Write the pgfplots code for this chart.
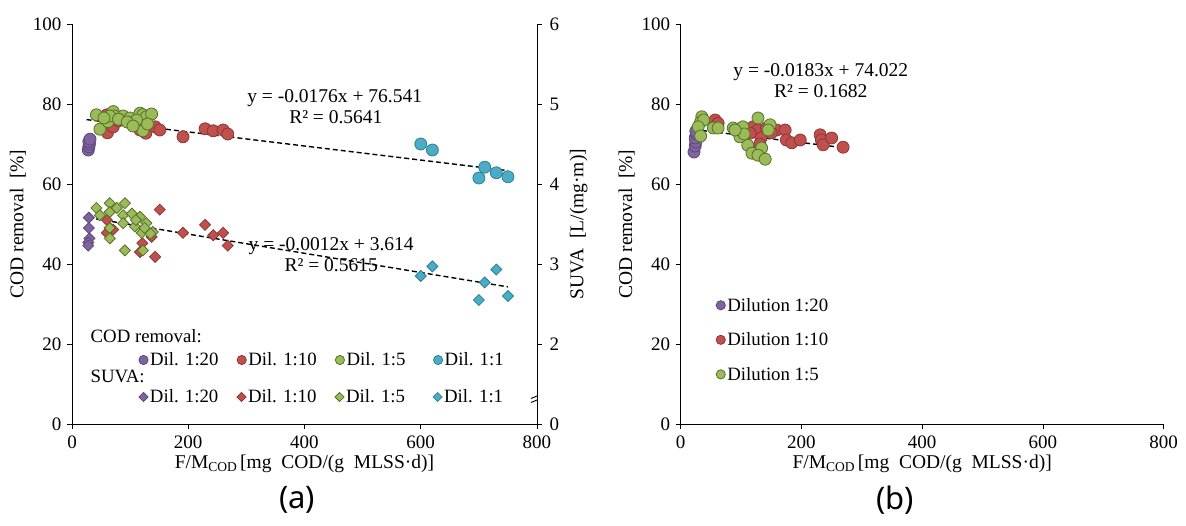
\documentclass[border=0pt]{standalone}
\usepackage{pgfplots}
\pgfplotsset{compat=1.18}
\usepackage{fontspec}
\setmainfont{Liberation Serif}
\newfontfamily\capfont{Noto Sans}
\definecolor{pF}{HTML}{8064A2}\definecolor{pD}{HTML}{5C4776}
\definecolor{rF}{HTML}{C0504D}\definecolor{rD}{HTML}{8C3836}
\definecolor{gF}{HTML}{9BBB59}\definecolor{gD}{HTML}{56702A}
\definecolor{bF}{HTML}{4BACC6}\definecolor{bD}{HTML}{2E7F95}
\newcommand{\fs}{\fontsize{19}{22}\selectfont}
\newcommand{\fl}{\fontsize{19.5}{22}\selectfont}
\newcommand{\fg}{\fontsize{18.8}{22}\selectfont}
\pgfplotsset{
  base/.style={scale only axis, width=465pt, height=400pt,
    xmin=0, xmax=800, ymin=0, ymax=100,
    tick align=outside, major tick length=5pt,
    tick style={black, line width=0.8pt},
    axis line style={line width=0.9pt},
    /pgf/number format/assume math mode=true,
    ticklabel style={font=\fs},
    xticklabel style={yshift=-3pt},
    label style={font=\fl},
    xtick={0,200,400,600,800},
    ytick={0,20,40,60,80,100},
  },
  cpur/.style={only marks, mark=*, mark size=6pt, fill=pF, draw=pD, line width=0.8pt},
  cred/.style={only marks, mark=*, mark size=6pt, fill=rF, draw=rD, line width=0.8pt},
  cgrn/.style={only marks, mark=*, mark size=6pt, fill=gF, draw=gD, line width=0.8pt},
  cblu/.style={only marks, mark=*, mark size=6pt, fill=bF, draw=bD, line width=0.8pt},
  dpur/.style={only marks, mark=square*, mark options={rotate=45}, mark size=3.9pt, fill=pF, draw=pD, line width=0.8pt},
  dred/.style={only marks, mark=square*, mark options={rotate=45}, mark size=3.9pt, fill=rF, draw=rD, line width=0.8pt},
  dgrn/.style={only marks, mark=square*, mark options={rotate=45}, mark size=3.9pt, fill=gF, draw=gD, line width=0.8pt},
  dblu/.style={only marks, mark=square*, mark options={rotate=45}, mark size=3.9pt, fill=bF, draw=bD, line width=0.8pt},
  trend/.style={black, line width=1.4pt, dash pattern=on 5pt off 3pt, mark=none},
}
\begin{document}
\frenchspacing
\begin{tikzpicture}
\path[use as bounding box] (0,0) rectangle (1186pt,-525pt);
% ---------- (a) primary axis ----------
\begin{axis}[base, at={(72pt,-424pt)}, anchor=south west,
  axis x line*=bottom, axis y line*=left,
  yticklabel style={xshift=-2pt},
  xlabel={F/M{\fontsize{13.5}{14}\selectfont\raisebox{-2.5pt}{COD}}\,[mg\ \ COD/(g\ \ MLSS·d)]},
  ylabel={COD removal\ \ [\%]},
  legend style={at={(0.1435,0.16)}, anchor=west, draw=none, fill=none,
    legend columns=4, font=\fg, inner sep=0pt,
    nodes={text width=85pt, align=left, inner xsep=2pt, inner ysep=1pt}},
  legend cell align=left,
  legend image code/.code={\draw[#1, mark size=4.6pt] plot coordinates {(0pt,0pt)};},
]
\addplot[cpur] coordinates {(28,68.5) (29,69.3) (30,70.0) (29,70.6) (31,71.2)};
\addlegendentry{Dil.\ 1:20}
\addplot[cred] coordinates {(60,77.3) (61,72.8) (71,74.3) (80,75.8) (85,76.5) (117,73.5) (127,72.7) (143,74.3) (151,73.5) (191,71.8) (229,73.8) (243,73.3) (260,73.5) (268,72.5) (110,75.0) (65,76.0)};
\addlegendentry{Dil.\ 1:10}
\addplot[cgrn] coordinates {(42,77.3) (48,73.7) (62,75.6) (71,78.1) (73,77.0) (88,77.0) (100,76.5) (117,77.7) (122,77.3) (128,76.8) (137,77.5) (122,73.3) (111,76.0) (65,77.0) (55,76.5) (80,76.2) (95,75.5) (130,75.0) (105,74.5)};
\addlegendentry{Dil.\ 1:5}
\addplot[cblu] coordinates {(600,70.0) (620,68.5) (700,61.5) (710,64.2) (730,62.8) (750,61.8)};
\addlegendentry{Dil.\ 1:1}
\addplot[trend, forget plot] coordinates {(25,76.101) (750,63.341)};
\node[font=\fl] at (axis cs:452,81.5) {y = -0.0176x + 76.541};
\node[font=\fl] at (axis cs:454,76.8) {R² = 0.5641};
\node[font=\fl] at (axis cs:446,44.5) {y = -0.0012x + 3.614};
\node[font=\fl] at (axis cs:446,39.8) {R² = 0.5615};
\node[font=\fg, anchor=west] at (axis cs:26,22) {COD removal:};
\node[font=\fg, anchor=west] at (axis cs:26,12) {SUVA:};
\end{axis}
% ---------- (a) secondary axis ----------
\begin{axis}[base, at={(72pt,-424pt)}, anchor=south west,
  axis x line=none, axis y line*=right,
  yticklabel style={xshift=4pt},
  ylabel style={yshift=-4pt},
  ymin=1, ymax=6, ytick={1,2,3,4,5,6}, yticklabels={0,2,3,4,5,6},
  ylabel={SUVA\ \ [L/(mg·m)]},
  legend style={at={(0.1435,0.0675)}, anchor=west, draw=none, fill=none,
    legend columns=4, font=\fg, inner sep=0pt,
    nodes={text width=85pt, align=left, inner xsep=2pt, inner ysep=1pt}},
  legend cell align=left,
  legend image code/.code={\draw[#1, mark size=3.2pt] plot coordinates {(0pt,0pt)};},
]
\addplot[dpur] coordinates {(29,3.58) (29,3.45) (30,3.32) (28,3.27) (28,3.23)};
\addlegendentry{Dil.\ 1:20}
\addplot[dred] coordinates {(151,3.68) (60,3.55) (60,3.39) (71,3.43) (121,3.26) (117,3.15) (143,3.09) (137,3.34) (191,3.39) (229,3.49) (243,3.36) (260,3.39) (268,3.23) (65,3.45)};
\addlegendentry{Dil.\ 1:10}
\addplot[dgrn] coordinates {(42,3.70) (65,3.76) (65,3.65) (91,3.76) (88,3.61) (88,3.51) (103,3.63) (117,3.59) (128,3.51) (139,3.40) (120,3.39) (65,3.45) (65,3.32) (91,3.17) (122,3.17) (108,3.47) (77,3.70) (48,3.61) (110,3.55) (125,3.45) (135,3.38)};
\addlegendentry{Dil.\ 1:5}
\addplot[dblu] coordinates {(600,2.85) (620,2.97) (700,2.55) (710,2.77) (730,2.93) (750,2.60)};
\addlegendentry{Dil.\ 1:1}
\addplot[trend, forget plot] coordinates {(28,3.580) (750,2.714)};
\fill[white] (axis cs:800,1.325) ++(-2pt,-3pt) rectangle ++(4pt,6pt);
\draw[line width=0.9pt] (axis cs:800,1.325) ++(-6pt,-4.5pt) -- ++(12pt,5pt);
\draw[line width=0.9pt] (axis cs:800,1.325) ++(-6pt,-0.5pt) -- ++(12pt,5pt);
\end{axis}
% ---------- (b) ----------
\begin{axis}[base, width=483pt, at={(680.7pt,-424pt)}, anchor=south west,
  axis x line*=bottom, axis y line*=left,
  yticklabel style={xshift=-2pt},
  xlabel={F/M{\fontsize{13.5}{14}\selectfont\raisebox{-2.5pt}{COD}}\,[mg\ \ COD/(g\ \ MLSS·d)]},
  ylabel={COD removal\ \ [\%]},
  legend style={at={(0.073,0.318)}, anchor=north west, draw=none, fill=none,
    font=\fg, inner sep=0pt, row sep=18pt,
    nodes={inner xsep=2pt, inner ysep=1pt}},
  legend cell align=left,
  legend image code/.code={\draw[#1, mark size=4.6pt] plot coordinates {(0pt,0pt)};},
]
\addplot[cpur] coordinates {(22,68.0) (24,69.5) (25,70.5) (24,71.5) (26,72.5) (25,73.2)};
\addlegendentry{Dilution 1:20}
\addplot[cred] coordinates {(57,76.0) (62,75.2) (120,74.3) (128,73.5) (133,71.5) (131,70.0) (142,74.0) (159,73.5) (173,73.5) (175,71.0) (184,70.3) (198,71.0) (231,72.3) (233,71.0) (236,69.8) (250,71.5) (269,69.2) (115,72.7) (150,72.8)};
\addlegendentry{Dilution 1:10}
\addplot[cgrn] coordinates {(35,76.8) (33,75.5) (38,76.0) (29,74.3) (33,72.0) (54,74.0) (62,74.0) (87,74.0) (98,73.0) (103,74.3) (111,69.7) (128,76.5) (134,69.0) (118,67.7) (128,67.2) (140,66.2) (148,74.8) (145,73.5) (98,71.8) (105,72.5) (90,73.5)};
\addlegendentry{Dilution 1:5}
\addplot[trend, forget plot] coordinates {(22,73.619) (269,69.099)};
\node[font=\fl] at (axis cs:232,88.0) {y = -0.0183x + 74.022};
\node[font=\fl] at (axis cs:232,83.2) {R² = 0.1682};
\end{axis}
\node[font=\capfont\fontsize{31}{34}\selectfont] at (297pt,-500pt) {(a)};
\node[font=\capfont\fontsize{31}{34}\selectfont] at (895pt,-500pt) {(b)};
\end{tikzpicture}
\end{document}
